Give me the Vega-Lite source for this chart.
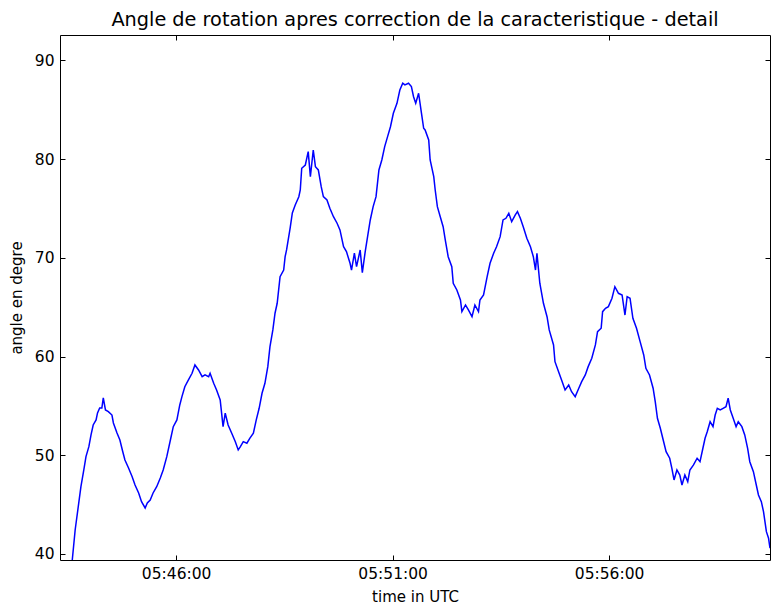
{
  "$schema": "https://vega.github.io/schema/vega-lite/v6.json",
  "width": 710,
  "height": 525,
  "autosize": {"type": "none"},
  "padding": {"left": 60, "top": 35, "right": 1, "bottom": 45},
  "background": "white",
  "config": {
    "view": {"stroke": "#000000", "strokeWidth": 1},
    "font": "DejaVu Sans",
    "axis": {
      "grid": false,
      "domain": false,
      "tickColor": "#000000",
      "tickSize": -5,
      "tickWidth": 1,
      "labelColor": "#000000",
      "labelFont": "DejaVu Sans",
      "labelFontSize": 15.5,
      "titleFont": "DejaVu Sans",
      "titleFontSize": 15,
      "titleFontWeight": "normal",
      "titleColor": "#000000"
    }
  },
  "title": {
    "text": "Angle de rotation apres correction de la caracteristique - detail",
    "font": "DejaVu Sans",
    "fontSize": 19.3,
    "fontWeight": "normal",
    "color": "#000000",
    "anchor": "middle",
    "offset": 4
  },
  "data": {
    "format": {"parse": {"t": "utc:'%H:%M:%S'"}},
    "values": [
      {"t":"05:43:36","a":39.39},{"t":"05:43:40","a":42.43},{"t":"05:43:48","a":46.82},{"t":"05:43:52","a":48.51},
      {"t":"05:43:55","a":49.86},{"t":"05:43:59","a":50.87},{"t":"05:44:02","a":52.06},{"t":"05:44:05","a":53.07},
      {"t":"05:44:09","a":53.58},{"t":"05:44:11","a":54.29},{"t":"05:44:14","a":54.79},{"t":"05:44:17","a":54.79},
      {"t":"05:44:19","a":55.81},{"t":"05:44:22","a":54.59},{"t":"05:44:26","a":54.42},{"t":"05:44:31","a":54.08},
      {"t":"05:44:33","a":53.27},{"t":"05:44:38","a":52.26},{"t":"05:44:42","a":51.55},{"t":"05:44:46","a":50.36},
      {"t":"05:44:49","a":49.52},{"t":"05:44:54","a":48.71},{"t":"05:44:59","a":47.83},{"t":"05:45:03","a":46.99},
      {"t":"05:45:08","a":46.18},{"t":"05:45:12","a":45.30},{"t":"05:45:17","a":44.66},{"t":"05:45:20","a":45.17},
      {"t":"05:45:24","a":45.47},{"t":"05:45:28","a":46.18},{"t":"05:45:33","a":46.82},{"t":"05:45:38","a":47.70},
      {"t":"05:45:42","a":48.51},{"t":"05:45:47","a":49.86},{"t":"05:45:52","a":51.55},{"t":"05:45:56","a":52.90},
      {"t":"05:46:01","a":53.58},{"t":"05:46:05","a":55.10},{"t":"05:46:08","a":55.94},{"t":"05:46:12","a":56.95},
      {"t":"05:46:17","a":57.63},{"t":"05:46:22","a":58.31},{"t":"05:46:26","a":59.15},{"t":"05:46:31","a":58.64},
      {"t":"05:46:36","a":57.96},{"t":"05:46:40","a":58.14},{"t":"05:46:45","a":57.96},{"t":"05:46:47","a":58.31},
      {"t":"05:46:52","a":57.29},{"t":"05:46:56","a":56.62},{"t":"05:47:01","a":55.60},{"t":"05:47:05","a":52.90},
      {"t":"05:47:08","a":54.26},{"t":"05:47:12","a":53.07},{"t":"05:47:17","a":52.23},{"t":"05:47:22","a":51.38},
      {"t":"05:47:26","a":50.54},{"t":"05:47:29","a":50.87},{"t":"05:47:33","a":51.38},{"t":"05:47:38","a":51.22},
      {"t":"05:47:42","a":51.72},{"t":"05:47:47","a":52.23},{"t":"05:47:51","a":53.58},{"t":"05:47:55","a":54.76},
      {"t":"05:47:59","a":56.28},{"t":"05:48:03","a":57.29},{"t":"05:48:07","a":58.98},{"t":"05:48:10","a":61.00},
      {"t":"05:48:14","a":62.70},{"t":"05:48:17","a":64.39},{"t":"05:48:20","a":65.40},{"t":"05:48:24","a":68.10},
      {"t":"05:48:29","a":68.77},{"t":"05:48:31","a":70.12},{"t":"05:48:33","a":70.80},{"t":"05:48:38","a":73.03},
      {"t":"05:48:41","a":74.55},{"t":"05:48:45","a":75.36},{"t":"05:48:50","a":76.20},{"t":"05:48:52","a":76.88},
      {"t":"05:48:54","a":79.08},{"t":"05:48:59","a":79.41},{"t":"05:49:03","a":80.76},{"t":"05:49:06","a":78.23},
      {"t":"05:49:10","a":80.93},{"t":"05:49:13","a":79.24},{"t":"05:49:17","a":78.91},{"t":"05:49:21","a":77.21},
      {"t":"05:49:24","a":76.20},{"t":"05:49:29","a":75.87},{"t":"05:49:33","a":75.03},{"t":"05:49:38","a":74.17},
      {"t":"05:49:43","a":73.51},{"t":"05:49:47","a":72.83},{"t":"05:49:52","a":71.13},{"t":"05:49:56","a":70.63},
      {"t":"05:50:01","a":69.45},{"t":"05:50:03","a":68.77},{"t":"05:50:07","a":70.47},{"t":"05:50:10","a":69.11},
      {"t":"05:50:15","a":70.80},{"t":"05:50:18","a":68.50},{"t":"05:50:22","a":70.63},{"t":"05:50:26","a":72.49},
      {"t":"05:50:29","a":73.84},{"t":"05:50:33","a":75.19},{"t":"05:50:37","a":76.20},{"t":"05:50:41","a":78.91},
      {"t":"05:50:45","a":79.92},{"t":"05:50:49","a":81.27},{"t":"05:50:53","a":82.28},{"t":"05:50:57","a":83.29},
      {"t":"05:51:01","a":84.65},{"t":"05:51:06","a":85.66},{"t":"05:51:10","a":87.01},{"t":"05:51:14","a":87.69},
      {"t":"05:51:17","a":87.52},{"t":"05:51:22","a":87.69},{"t":"05:51:26","a":87.35},{"t":"05:51:29","a":86.33},
      {"t":"05:51:32","a":85.66},{"t":"05:51:36","a":86.68},{"t":"05:51:40","a":84.65},{"t":"05:51:43","a":83.13},
      {"t":"05:51:45","a":82.96},{"t":"05:51:50","a":81.95},{"t":"05:51:52","a":79.92},{"t":"05:51:57","a":78.23},
      {"t":"05:51:59","a":76.88},{"t":"05:52:02","a":75.19},{"t":"05:52:06","a":74.17},{"t":"05:52:10","a":73.16},
      {"t":"05:52:13","a":71.81},{"t":"05:52:17","a":70.12},{"t":"05:52:22","a":69.11},{"t":"05:52:24","a":67.43},
      {"t":"05:52:29","a":66.75},{"t":"05:52:34","a":65.73},{"t":"05:52:36","a":64.55},{"t":"05:52:41","a":65.23},
      {"t":"05:52:45","a":64.72},{"t":"05:52:50","a":64.04},{"t":"05:52:54","a":65.23},{"t":"05:52:59","a":64.55},
      {"t":"05:53:01","a":65.73},{"t":"05:53:06","a":66.24},{"t":"05:53:11","a":68.10},{"t":"05:53:15","a":69.45},
      {"t":"05:53:20","a":70.47},{"t":"05:53:24","a":71.13},{"t":"05:53:29","a":72.15},{"t":"05:53:33","a":73.84},
      {"t":"05:53:37","a":74.01},{"t":"05:53:41","a":74.52},{"t":"05:53:45","a":73.67},{"t":"05:53:50","a":74.35},
      {"t":"05:53:53","a":74.68},{"t":"05:53:57","a":74.01},{"t":"05:54:01","a":73.16},{"t":"05:54:06","a":71.99},
      {"t":"05:54:11","a":71.13},{"t":"05:54:15","a":70.12},{"t":"05:54:18","a":68.77},{"t":"05:54:20","a":70.47},
      {"t":"05:54:24","a":67.43},{"t":"05:54:29","a":65.40},{"t":"05:54:34","a":64.04},{"t":"05:54:37","a":62.70},
      {"t":"05:54:43","a":61.18},{"t":"05:54:45","a":59.48},{"t":"05:54:50","a":58.47},{"t":"05:54:55","a":57.46},
      {"t":"05:54:59","a":56.62},{"t":"05:55:04","a":57.12},{"t":"05:55:08","a":56.44},{"t":"05:55:13","a":55.94},
      {"t":"05:55:18","a":56.79},{"t":"05:55:22","a":57.46},{"t":"05:55:27","a":58.14},{"t":"05:55:31","a":58.98},
      {"t":"05:55:36","a":59.83},{"t":"05:55:41","a":61.18},{"t":"05:55:44","a":62.52},{"t":"05:55:49","a":62.87},
      {"t":"05:55:51","a":64.55},{"t":"05:55:55","a":64.89},{"t":"05:55:59","a":65.06},{"t":"05:56:04","a":65.91},
      {"t":"05:56:08","a":67.08},{"t":"05:56:13","a":66.41},{"t":"05:56:18","a":66.24},{"t":"05:56:22","a":64.21},
      {"t":"05:56:25","a":66.07},{"t":"05:56:29","a":65.91},{"t":"05:56:33","a":63.88},{"t":"05:56:38","a":62.87},
      {"t":"05:56:43","a":61.51},{"t":"05:56:48","a":60.16},{"t":"05:56:51","a":58.81},{"t":"05:56:56","a":58.14},
      {"t":"05:57:01","a":56.79},{"t":"05:57:04","a":55.40},{"t":"05:57:07","a":53.75},{"t":"05:57:11","a":52.74},
      {"t":"05:57:15","a":51.55},{"t":"05:57:19","a":50.36},{"t":"05:57:24","a":49.70},{"t":"05:57:27","a":48.68},
      {"t":"05:57:30","a":47.50},{"t":"05:57:34","a":48.51},{"t":"05:57:38","a":48.00},{"t":"05:57:41","a":46.99},
      {"t":"05:57:45","a":48.00},{"t":"05:57:49","a":47.33},{"t":"05:57:52","a":48.51},{"t":"05:57:57","a":49.02},
      {"t":"05:58:02","a":49.70},{"t":"05:58:06","a":49.35},{"t":"05:58:10","a":50.71},{"t":"05:58:13","a":51.72},
      {"t":"05:58:16","a":52.39},{"t":"05:58:20","a":53.40},{"t":"05:58:24","a":52.90},{"t":"05:58:27","a":54.08},
      {"t":"05:58:30","a":54.76},{"t":"05:58:34","a":54.59},{"t":"05:58:38","a":54.76},{"t":"05:58:42","a":54.92},
      {"t":"05:58:45","a":55.78},{"t":"05:58:48","a":54.59},{"t":"05:58:52","a":53.75},{"t":"05:58:56","a":52.90},
      {"t":"05:58:59","a":53.40},{"t":"05:59:04","a":52.90},{"t":"05:59:08","a":52.06},{"t":"05:59:12","a":50.71},
      {"t":"05:59:15","a":49.35},{"t":"05:59:20","a":48.34},{"t":"05:59:24","a":46.99},{"t":"05:59:27","a":45.98},
      {"t":"05:59:31","a":45.30},{"t":"05:59:34","a":44.29},{"t":"05:59:38","a":42.26},{"t":"05:59:41","a":41.59},
      {"t":"05:59:43","a":40.58}
    ]
  },
  "layer": [
    {
      "mark": {"type": "line", "color": "#0000ff", "strokeWidth": 1.5, "clip": true},
      "encoding": {
        "x": {
          "field": "t",
          "type": "temporal",
          "scale": {
            "type": "utc",
            "domain": [
              {"year": 1900, "month": 1, "date": 1, "hours": 5, "minutes": 43, "seconds": 19, "utc": true},
              {"year": 1900, "month": 1, "date": 1, "hours": 5, "minutes": 59, "seconds": 43, "utc": true}
            ]
          },
          "axis": {
            "orient": "bottom",
            "values": [
              {"year": 1900, "month": 1, "date": 1, "hours": 5, "minutes": 46, "seconds": 0, "utc": true},
              {"year": 1900, "month": 1, "date": 1, "hours": 5, "minutes": 51, "seconds": 0, "utc": true},
              {"year": 1900, "month": 1, "date": 1, "hours": 5, "minutes": 56, "seconds": 0, "utc": true}
            ],
            "format": "%H:%M:%S",
            "labelPadding": 11,
            "labelFlush": false,
            "title": "time in UTC",
            "titlePadding": 8
          }
        },
        "y": {
          "field": "a",
          "type": "quantitative",
          "scale": {"domain": [39.39, 92.58], "nice": false, "zero": false},
          "axis": {
            "orient": "left",
            "values": [40, 50, 60, 70, 80, 90],
            "labelPadding": 11,
            "title": "angle en degre",
            "titlePadding": 10
          }
        }
      }
    },
    {
      "mark": {"type": "line", "opacity": 0},
      "encoding": {
        "x": {
          "field": "t",
          "type": "temporal",
          "axis": {
            "orient": "top",
            "values": [
              {"year": 1900, "month": 1, "date": 1, "hours": 5, "minutes": 46, "seconds": 0, "utc": true},
              {"year": 1900, "month": 1, "date": 1, "hours": 5, "minutes": 51, "seconds": 0, "utc": true},
              {"year": 1900, "month": 1, "date": 1, "hours": 5, "minutes": 56, "seconds": 0, "utc": true}
            ],
            "labels": false,
            "title": null
          }
        },
        "y": {
          "field": "a",
          "type": "quantitative",
          "axis": {"orient": "right", "values": [40, 50, 60, 70, 80, 90], "labels": false, "title": null}
        }
      }
    }
  ],
  "resolve": {"axis": {"x": "independent", "y": "independent"}}
}
